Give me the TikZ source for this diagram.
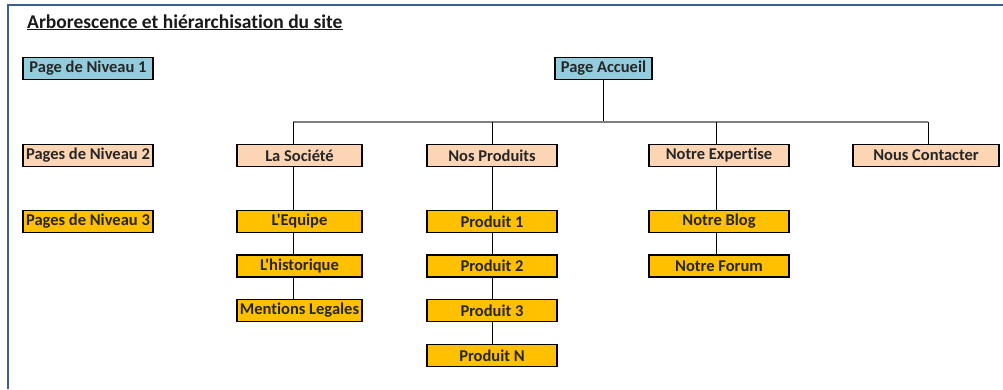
\documentclass[tikz,border=0pt]{standalone}
\usepackage{fontspec}
\setmainfont{Carlito}[Ligatures={TeXOff,NoCommon}]
\definecolor{niv1}{HTML}{93CDDD}
\definecolor{niv2}{HTML}{FCD5B5}
\definecolor{niv3}{HTML}{FFC000}
\definecolor{cadre}{HTML}{3B5E8C}

\begin{document}
\begin{tikzpicture}[x=1pt, y=-1pt,
    page/.style={draw=black, line width=1.4pt, minimum height=22pt, inner sep=0pt,
        font=\fontsize{16.5}{18}\selectfont\bfseries, text=black!85},
    niveau1/.style={page, fill=niv1},
    niveau2/.style={page, fill=niv2},
    niveau3/.style={page, fill=niv3},
    link/.style={black, line width=0.9pt},
    busline/.style={gray, line width=1.5pt}]
    \useasboundingbox (0,0) rectangle (1003,389);

    % frame & title
    \draw[cadre, line width=1.6pt] (8,389) -- (8,5) -- (1003,5);
    \node[anchor=base west, inner sep=0pt, font=\fontsize{19.5}{22}\selectfont\bfseries, text=black!90]
        (titre) at (27,28) {\underline{Arborescence et hiérarchisation du site}};

    % legend
    \node[niveau1, minimum width=130pt] (leg1) at (88,68.5) {Page de Niveau 1};
    \node[niveau2, minimum width=130pt] (leg2) at (88,155.5) {Pages de Niveau 2};
    \node[niveau3, minimum width=130pt] (leg3) at (88,221.5) {Pages de Niveau 3};

    % level 1
    \node[niveau1, minimum width=97pt] (accueil) at (603.5,68.5) {Page Accueil};

    % level 2
    \node[niveau2, minimum width=125pt] (societe) at (299.5,155.5) {La Société};
    \node[niveau2, minimum width=130pt] (produits) at (492,155.5) {Nos Produits};
    \node[niveau2, minimum width=140pt] (expertise) at (719,155.5) {Notre Expertise};
    \node[niveau2, minimum width=146pt] (contact) at (926,155.5) {Nous Contacter};

    % level 3
    \node[niveau3, minimum width=125pt] (equipe) at (299.5,221.5) {L'Equipe};
    \node[niveau3, minimum width=125pt] (historique) at (299.5,266) {L'historique};
    \node[niveau3, minimum width=125pt] (mentions) at (299.5,310.5) {Mentions Legales};

    \node[niveau3, minimum width=130pt] (produit1) at (492,221.5) {Produit 1};
    \node[niveau3, minimum width=130pt] (produit2) at (492,266) {Produit 2};
    \node[niveau3, minimum width=130pt] (produit3) at (492,310.5) {Produit 3};
    \node[niveau3, minimum width=130pt] (produitN) at (492,355.5) {Produit N};

    \node[niveau3, minimum width=140pt] (blog) at (719,221.5) {Notre Blog};
    \node[niveau3, minimum width=140pt] (forum) at (719,266) {Notre Forum};

    % columns & bus
    \coordinate (bus) at (0,122);
    \coordinate (c1) at (293,0);
    \coordinate (c2) at (492.5,0);
    \coordinate (c3) at (716,0);
    \coordinate (c4) at (928,0);

    \draw[link] (accueil.south) -- (accueil |- bus);
    \draw[busline] (c1 |- bus) -- (c4 |- bus);
    \foreach \c/\n in {c1/societe, c2/produits, c3/expertise, c4/contact}
        \draw[link] (\c |- bus) -- (\n.north -| \c);

    % sub pages
    \foreach \c/\a/\b in {c1/societe/equipe, c1/equipe/historique, c1/historique/mentions,
            c2/produits/produit1, c2/produit1/produit2, c2/produit2/produit3, c2/produit3/produitN,
            c3/expertise/blog, c3/blog/forum}
        \draw[link] (\a.south -| \c) -- (\b.north -| \c);
\end{tikzpicture}
\end{document}
